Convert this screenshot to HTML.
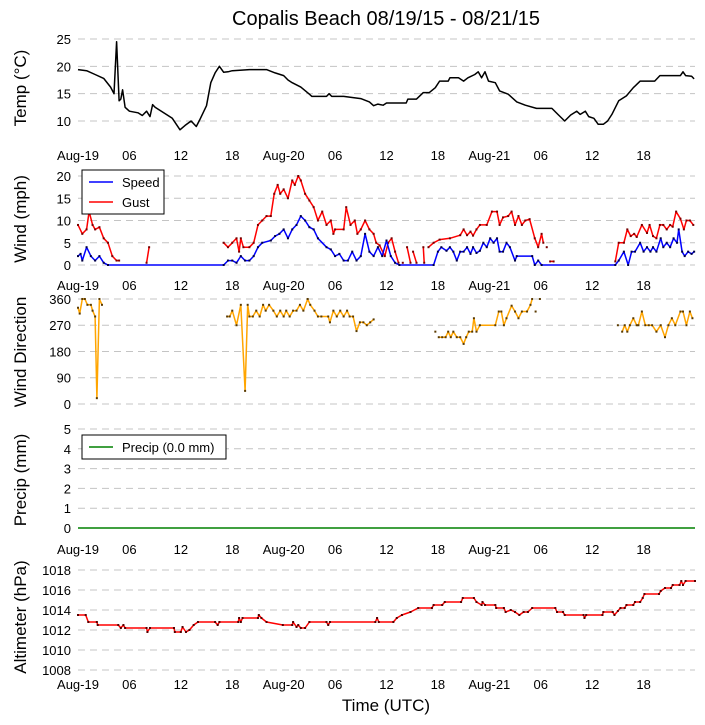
<!DOCTYPE html>
<html><head><meta charset="utf-8">
<style>
body{margin:0;background:#fff;}
svg{display:block;font-family:"Liberation Sans",sans-serif;}
</style></head>
<body>
<svg id="chart" width="705" height="725" viewBox="0 0 705 725"></svg>
<script>
const xTickLabels = ["Aug-19","06","12","18","Aug-20","06","12","18","Aug-21","06","12","18"];
const tempTimes = [0,1,2,3,3.8,4.2,4.5,4.8,5,5.2,5.5,6,7,7.5,8,8.4,8.7,9,10,11,11.9,12.5,13.2,13.8,14.2,15,15.5,16,16.5,17,17.5,18,20,22,23,24,24.5,25,26,27,27.3,29,29.3,29.6,31,32,33,34,34.5,35,35.6,36,38.3,38.5,39.5,40.3,41,41.7,42.2,43.2,43.4,44.4,45,45.5,46.3,46.7,47.1,47.5,47.9,48.7,49.2,50.2,51.2,52.2,53.5,55.3,56,56.8,57.5,58.2,58.6,59.2,59.6,60.2,60.7,61.3,61.8,62.3,63.1,64,64.8,65.6,67.3,67.9,70.3,70.6,70.9,71.6,71.9];
const tempValues = [19.4,19.2,18.5,17.8,16.2,15,24.5,13.7,14,15.7,12.5,11.8,11.5,11,11.8,10.8,13,12.5,11.5,10.5,8.4,9.2,10,9.0,10.2,12.8,17,18.8,20,18.9,19,19.2,19.4,19.4,18.8,18.3,17.5,17,16.2,14.9,14.5,14.5,15,14.5,14.5,14.3,14.1,13.5,12.8,13.1,12.9,13.3,13.3,14,14,15.2,15.2,16.1,17.3,17.3,17.9,17.9,17.3,17.9,18.5,19,17.9,19,17.3,17,15.5,14.9,13.5,12.9,12.3,12.3,11.2,10,11.1,11.8,11.2,11.8,10.8,10.5,9.4,9.4,10,11.2,13.7,14.6,16.1,17.3,17.3,18.3,18.3,19,18.3,18.2,17.7];
const speedTimes = [0,0.3,0.5,1,1.5,2,2.5,3,3.5,17,17.5,18,18.5,19,19.5,20,20.5,21,21.5,22.5,23,23.5,24,24.5,25,25.5,26,26.5,27,27.5,28,29,29.5,30,30.5,31,31.5,32,32.5,33,33.5,34,34.5,35,35.5,36,36.5,37,37.5,41.5,42,42.4,43,43.4,43.8,44.2,44.6,45,45.4,45.8,46.1,46.5,46.9,47.3,47.7,48.1,48.5,48.9,49.2,49.6,50,50.4,51,51.2,53,53.3,53.7,54.1,62.7,63.1,63.7,64.2,64.6,65,65.6,66,66.4,66.8,67.1,67.5,68,68.3,68.7,69.1,69.5,69.9,70.1,70.5,70.8,71.2,71.6,71.9];
const speedValues = [2,2.5,1,4,2,1,2,0.5,0,0,1,1,0.5,2,1,1,2,4,5,5.5,6.5,7,8,6,8,9,11,10,8.5,8,6,4,3.5,2,2.5,1,1,3,1,2,7,3,2,4,2,5.5,2,0.5,0,0,3,4,3.2,4,3,1,3,3,4,2.5,4,2.7,3.2,5,4,6,5,6,3,3,5,4,1,2,2,0,1,0,0,1,3,0,3,3,5,3,4,3,4,3,6,4,5,4,6,5,8,3,2,3,2.5,3];
const gustTimes = [0,0.5,1,1.3,1.7,2,2.5,3,3.5,4,4.5,4.8,null,8,8.3,null,17,17.5,18,18.5,18.8,19,19.3,20,20.5,21,21.5,22,22.5,22.9,23.3,23.6,24,24.5,25,25.3,25.7,26,26.5,27,27.5,28,28.5,29,29.5,29.8,30,31,31.3,31.8,32.3,32.6,33,33.5,34,34.5,34.8,35.2,35.8,36.2,36.6,37,37.4,null,37.9,null,38.4,38.8,null,39.1,39.5,null,40.3,40.4,null,40.9,41.5,42.2,43.4,44.6,45,45.4,45.8,46.1,46.5,46.9,47.7,48.3,48.9,49.2,49.6,50.2,50.6,51,51.4,51.8,52.2,52.7,53.3,53.7,54.1,54.3,null,54.7,null,55.1,55.5,null,62.7,63.1,63.7,64.1,64.5,64.9,65.2,65.8,66.4,66.7,67.1,67.5,67.9,68.3,68.7,69.1,69.4,69.8,70.3,70.7,71,71.4,71.8];
const gustValues = [9,7,8,12,9,8,8.5,6,5,2,1,1,null,0.5,4,null,5,4,5,6,3,6,4,4,5,9,10,11,11,16,18,16,17,15,19,18,20,19,16,14.5,13,10,12,9,10,7,8,8,13,9,10,7,8,10,8,7,5,4.4,2,5,6,3,0.5,null,0.5,null,4,0.5,null,3,0.5,null,4,0.5,null,4,5,5.7,6,6.7,8,6.7,7.5,6.6,8,9,9,12,12,9,10.7,11,12,9,11,9,10,10.3,6,4,7,5,null,4,null,0.8,0.8,null,0.8,5,5,8,6.5,7,6.3,9,7.2,9,6.5,6,9,9,8,9,8.6,12,10.4,8,10,10,9];
const dirTimes = [0,0.2,0.5,0.8,1.1,1.5,1.7,2.0,2.2,2.5,2.8,null,17.4,17.7,18,18.5,19,19.5,19.8,20,20.4,20.8,21.2,21.6,21.9,22.3,22.8,23.2,23.6,24,24.3,24.7,25.1,25.5,25.9,26.3,26.8,27.1,27.6,28,28.4,29.2,29.4,29.8,30.2,30.6,31,31.4,31.7,32.1,32.5,32.9,33.3,33.7,34.1,34.5,null,41.7,null,42.1,42.5,42.9,43.2,43.5,43.8,44.2,44.6,45,45.3,45.6,46,46.2,46.5,46.9,48.7,49.1,49.4,49.7,50,50.6,51,51.4,51.8,52.4,52.8,53,null,53.4,null,53.9,null,63,null,63.5,63.8,64.1,64.4,64.8,65.2,65.4,65.8,66.2,66.6,67,67.5,68,68.5,68.9,69.3,69.7,70.3,70.6,71,71.4,71.7];
const dirValues = [330,310,360,360,340,340,320,300,20,360,340,null,300,300,320,270,340,45,340,300,300,320,300,340,320,340,320,300,320,300,320,300,320,320,340,320,360,340,320,300,300,300,280,320,300,320,300,320,300,300,250,280,280,270,280,290,null,248,null,229,229,229,248,229,248,229,229,206,229,248,248,294,248,270,270,317,317,270,294,337,317,294,317,317,340,360,null,317,null,360,null,270,null,248,270,248,270,294,270,270,317,270,270,270,248,270,229,270,294,270,317,317,270,317,294];
const precipTimes = [0,72];
const precipValues = [0,0];
const altTimes = [0,0.9,1.2,2.2,2.3,4.7,5,5.3,5.5,8,8.1,8.4,11.2,11.3,12,12.2,12.6,13,13.5,14,16,16.3,16.5,18.7,18.8,19,19.2,21,21.1,21.4,22,23.9,25,25.1,25.5,25.7,26,26.5,27,29,29.2,29.4,34.7,34.9,35.1,36.8,37.2,37.8,38.8,39.7,41.3,41.5,42.5,42.8,44.7,44.9,46.2,46.5,47.1,47.2,47.5,48.7,48.8,49.7,49.9,50.5,51,51.5,52,52.5,53,55.7,55.9,56.6,56.8,59,59.1,59.3,61.2,61.3,62.4,62.6,63,63.3,63.8,64,64.8,65,65.6,65.9,66.1,67.8,68,68.5,69.2,69.4,70.2,70.4,70.6,70.9,72];
const altValues = [1013.5,1013.5,1012.8,1012.8,1012.5,1012.5,1012.2,1012.5,1012.2,1012.2,1011.8,1012.2,1012.2,1011.8,1011.8,1012.3,1011.8,1012,1012.5,1012.8,1012.8,1012.5,1012.8,1012.8,1013.2,1012.8,1013.2,1013.2,1013.5,1013.2,1012.8,1012.5,1012.5,1012.8,1012.3,1012.5,1012.2,1012.2,1012.8,1012.8,1012.5,1012.8,1012.8,1013.2,1012.8,1012.8,1013.2,1013.5,1013.8,1014.2,1014.2,1014.5,1014.5,1014.8,1014.8,1015.2,1015.2,1014.8,1014.5,1014.8,1014.5,1014.5,1014.2,1014.2,1013.8,1014,1013.8,1013.5,1013.8,1013.8,1014.2,1014.2,1013.8,1013.8,1013.5,1013.5,1013.2,1013.5,1013.5,1013.8,1013.8,1013.5,1013.9,1014.2,1014.2,1014.5,1014.5,1014.8,1014.8,1015.2,1015.6,1015.6,1015.9,1016.2,1016.2,1016.5,1016.5,1016.9,1016.5,1016.9,1016.9];

const NS = "http://www.w3.org/2000/svg";
const svg = document.getElementById("chart");
const X0 = 78, X1 = 695, HOURS = 72;
const xScale = h => X0 + (X1 - X0) * h / HOURS;
function mk(tag, attrs, parent) {
  const el = document.createElementNS(NS, tag);
  for (const k in attrs) el.setAttribute(k, attrs[k]);
  (parent || svg).appendChild(el);
  return el;
}
function txt(x, y, s, size, anchor, parent) {
  const t = mk("text", {x: x, y: y, "font-size": size, "text-anchor": anchor || "middle", fill: "#000"}, parent);
  t.textContent = s;
  return t;
}
function panel(name, yScale, ticks, title, titleY, showX, xLabY) {
  const g = mk("g", {});
  
  
  ticks.forEach(v => {
    const y = yScale(v);
    const l = mk("line", {x1: X0, x2: X1, y1: y, y2: y, stroke: "#c4c4c4", "stroke-width": 1, "stroke-dasharray": "7,5"}, g);
    
    
    const t = txt(71, y + 5, String(v), 13, "end", g);
    
    
  });
  const yt = txt(0, 0, title, 17, "middle", g);
  yt.setAttribute("transform", "translate(26," + titleY + ") rotate(-90)");
  
  
  if (showX) {
    xTickLabels.forEach((s, i) => {
      const t = txt(xScale(i * 6), xLabY, s, 13, "middle", g);
      
      
    });
  }
  return g;
}
function series(name, times, values, yScale, color, mcolor, g) {
  const sg = mk("g", {}, g);
  
  
  let d = "", pen = false;
  const pts = [];
  for (let i = 0; i < times.length; i++) {
    if (times[i] === null || values[i] === null) { pen = false; continue; }
    const x = xScale(times[i]), y = yScale(values[i]);
    d += (pen ? "L" : "M") + x.toFixed(1) + "," + y.toFixed(1);
    pen = true;
    pts.push([x, y]);
  }
  const p = mk("path", {d: d, fill: "none", stroke: color, "stroke-width": 1.5, "stroke-linejoin": "round"}, sg);
  
  
  if (mcolor) {
    pts.forEach(([x, y]) => {
      const r = mk("rect", {x: x - 1, y: y - 1, width: 2, height: 2, fill: mcolor}, sg);
      
      
    });
  }
}
function legend(name, x, y, w, entries, g) {
  const lg = mk("g", {}, g);
  
  
  mk("rect", {x: x, y: y, width: w, height: entries.length * 20 + 4, fill: "#fff", stroke: "#000", "stroke-width": 1}, lg);
  entries.forEach((e, i) => {
    const yy = y + 12 + i * 20;
    const l = mk("line", {x1: x + 7, x2: x + 31, y1: yy, y2: yy, stroke: e[1], "stroke-width": 1.5}, lg);
    
    
    const t = txt(x + 40, yy + 5, e[0], 13, "start", lg);
    
    
  });
}

const title = txt(386, 25, "Copalis Beach 08/19/15 - 08/21/15", 20, "middle");



const yT = v => 39 + (25 - v) * 5.467;
const gT = panel("temperature", yT, [10, 15, 20, 25], "Temp (\u00B0C)", 88, true, 160);
series("temperature", tempTimes, tempValues, yT, "#000", null, gT);

const yW = v => 265 - v * 4.45;
const gW = panel("wind-speed", yW, [0, 5, 10, 15, 20], "Wind (mph)", 219, true, 290);
series("gust", gustTimes, gustValues, yW, "#f00", "#700", gW);
series("speed", speedTimes, speedValues, yW, "#00f", "#004", gW);
legend("wind-legend", 82, 170, 82, [["Speed", "#00f"], ["Gust", "#f00"]], gW);

const yD = v => 404 - v * 0.2917;
const gD = panel("wind-direction", yD, [0, 90, 180, 270, 360], "Wind Direction", 352, false, 0);
series("wind-direction", dirTimes, dirValues, yD, "#ffa500", "#5a3a00", gD);

const yP = v => 528 - v * 19.8;
const gP = panel("precip", yP, [0, 1, 2, 3, 4, 5], "Precip (mm)", 480, true, 554);
series("precip", precipTimes, precipValues, yP, "#008000", null, gP);
legend("precip-legend", 82, 435, 144, [["Precip (0.0 mm)", "#008000"]], gP);

const yA = v => 670 - (v - 1008) * 10;
const gA = panel("altimeter", yA, [1008, 1010, 1012, 1014, 1016, 1018], "Altimeter (hPa)", 617, true, 689);
series("altimeter", altTimes, altValues, yA, "#f00", "#500", gA);

const xt = txt(386, 711, "Time (UTC)", 17, "middle");


</script>
</body></html>
